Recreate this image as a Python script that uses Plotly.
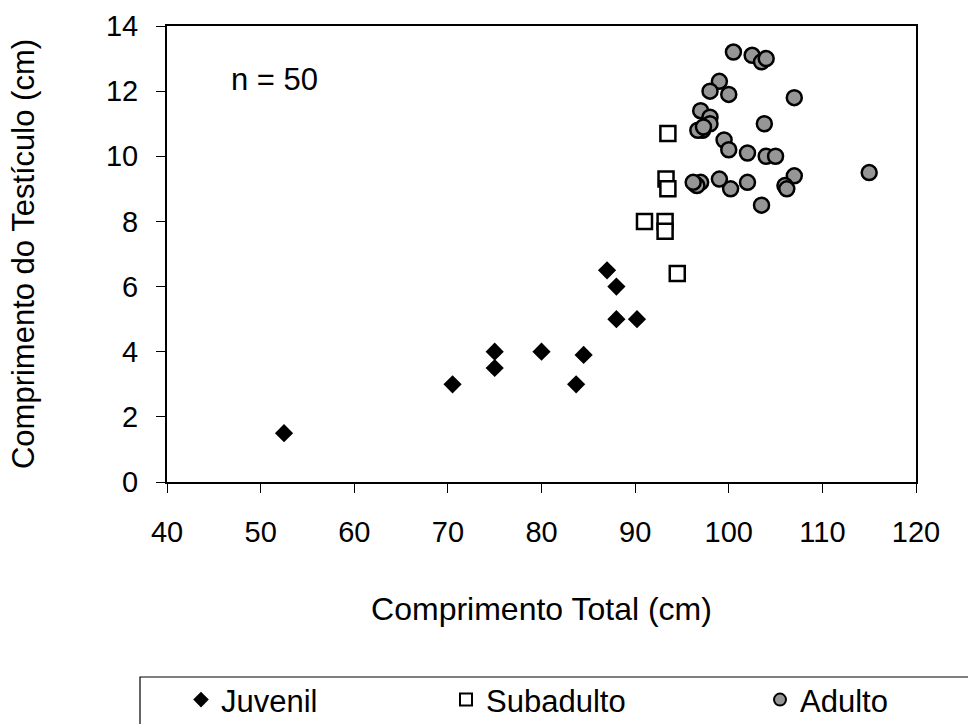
import plotly.graph_objects as go

# Juvenil
juv_x = [52.5, 70.5, 75.0, 75.0, 80.0, 84.5, 83.7, 87.0, 88.0, 88.0, 90.2]
juv_y = [1.5, 3.0, 4.0, 3.5, 4.0, 3.9, 3.0, 6.5, 6.0, 5.0, 5.0]

# Subadulto
sub_x = [93.5, 93.3, 93.5, 91.0, 93.2, 93.2, 94.5]
sub_y = [10.7, 9.3, 9.0, 8.0, 8.0, 7.7, 6.4]

# Adulto
adu_x = [100.5, 102.5, 103.5, 104.0, 99.0, 98.0, 100.0, 107.0, 97.0, 98.0,
         98.0, 103.8, 97.2, 96.7, 99.5, 100.0, 102.0, 104.0, 105.0, 107.0,
         106.0, 106.2, 103.5, 102.0, 100.2, 99.0, 97.0, 96.4, 96.6, 96.2,
         115.0, 97.3]
adu_y = [13.2, 13.1, 12.9, 13.0, 12.3, 12.0, 11.9, 11.8, 11.4, 11.2,
         11.0, 11.0, 10.8, 10.8, 10.5, 10.2, 10.1, 10.0, 10.0, 9.4,
         9.1, 9.0, 8.5, 9.2, 9.0, 9.3, 9.2, 9.15, 9.1, 9.2,
         9.5, 10.9]

x_ticks = [40, 50, 60, 70, 80, 90, 100, 110, 120]
y_ticks = [0, 2, 4, 6, 8, 10, 12, 14]

FONT = "Liberation Sans, Arial, sans-serif"

fig = go.Figure()
fig.add_trace(go.Scatter(
    x=juv_x, y=juv_y, mode="markers", name="Juvenil", legend="legend",
    marker=dict(symbol="diamond", size=14, color="black",
                line=dict(color="black", width=0))))
fig.add_trace(go.Scatter(
    x=sub_x, y=sub_y, mode="markers", name="Subadulto", legend="legend2",
    marker=dict(symbol="square", size=15, color="white",
                line=dict(color="black", width=2.5))))
fig.add_trace(go.Scatter(
    x=adu_x, y=adu_y, mode="markers", name="Adulto", legend="legend3",
    marker=dict(symbol="circle", size=15, color="#969696",
                line=dict(color="black", width=2.5))))

axis_common = dict(
    showgrid=False, zeroline=False, showline=True, mirror=True,
    linecolor="black", linewidth=2, ticks="outside", ticklen=9,
    tickcolor="black", tickwidth=1,
    tickfont=dict(family=FONT, size=29, color="black"),
)

leg_common = dict(orientation="h", yanchor="middle", y=-0.478,
                  xanchor="left", bgcolor="rgba(0,0,0,0)", borderwidth=0,
                  itemsizing="constant",
                  font=dict(family=FONT, size=31, color="black"))

fig.update_layout(
    width=968, height=724,
    margin=dict(l=167, r=52, t=26, b=242, autoexpand=False),
    paper_bgcolor="white", plot_bgcolor="white",
    showlegend=True,
    xaxis=dict(range=[40, 120], tickvals=x_ticks, ticklabelstandoff=14,
               title=dict(text="Comprimento Total (cm)", standoff=51,
                          font=dict(family=FONT, size=32, color="black")),
               **axis_common),
    yaxis=dict(range=[0, 14], tickvals=y_ticks, ticklabelstandoff=12,
               title=dict(text="Comprimento do Testículo (cm)", standoff=62,
                          font=dict(family=FONT, size=31, color="black")),
               **axis_common),
    legend=dict(x=(181 - 167) / 749, **leg_common),
    legend2=dict(x=(446 - 167) / 749, **leg_common),
    legend3=dict(x=(760 - 167) / 749, **leg_common),
    annotations=[dict(text="n = 50", x=0.083, y=0.8816, xref="paper", yref="paper",
                      xanchor="left", yanchor="middle", showarrow=False,
                      font=dict(family=FONT, size=31, color="black"))],
    shapes=[dict(type="rect", xref="paper", yref="paper",
                 x0=(140 - 167) / 749, x1=(990 - 167) / 749,
                 y0=(482 - 677) / 456, y1=(482 - 760) / 456,
                 line=dict(color="black", width=1.2), fillcolor="rgba(0,0,0,0)",
                 layer="above")],
)

fig.write_html("out.html")
